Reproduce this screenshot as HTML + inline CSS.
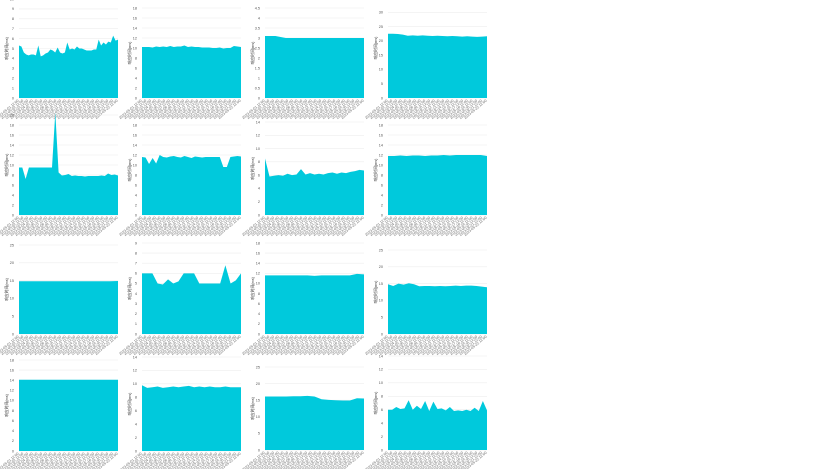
<!DOCTYPE html>
<html><head><meta charset="utf-8"><style>
body{margin:0;background:#fff;width:835px;height:469px;overflow:hidden;font-family:"Liberation Sans",sans-serif}
svg{display:block}
</style></head><body>
<svg id="c" width="835" height="469"></svg>
<script>
const v1=[5.3,5.2,4.6,4.4,4.3,4.4,4.4,4.3,5.3,4.2,4.3,4.5,4.6,4.9,4.8,4.6,5.1,4.6,4.5,4.6,5.6,4.9,5.0,4.9,5.2,5.0,5.0,4.9,4.8,4.8,4.8,4.9,4.9,5.9,5.3,5.6,5.4,5.7,5.6,6.3,5.8,5.9];
const v2=[10.2,10.2,10.2,10.1,10.3,10.2,10.3,10.2,10.4,10.2,10.3,10.3,10.5,10.2,10.3,10.2,10.2,10.1,10.1,10.1,10.0,10.0,10.1,9.9,10.0,10.0,10.4,10.3,10.2];
const v3=[3.1,3.1,3.1,3.05,3.0,3.0,3.0,3.0,3.0,3.0,3.0,3.0,3.0,3.0,3.0,3.0,3.0,3.0,3.0,3.0];
const v4=[22.5,22.5,22.4,22.2,21.8,21.9,21.8,21.9,21.8,21.7,21.8,21.7,21.6,21.7,21.6,21.5,21.6,21.5,21.4,21.5,21.6];
const v5=[9.5,9.5,7.2,9.5,9.5,9.5,9.5,9.5,9.5,9.5,9.5,20.5,8.5,7.9,8.0,8.2,7.8,7.9,7.8,7.8,7.7,7.8,7.8,7.8,7.8,7.9,7.8,8.3,8.0,8.1,7.9];
const v6=[11.6,11.5,10.2,11.4,10.3,12.0,11.6,11.5,11.7,11.8,11.6,11.5,11.8,11.6,11.4,11.7,11.6,11.5,11.6,11.6,11.6,11.6,11.6,9.6,9.6,11.6,11.7,11.8,11.7];
const v7=[8.5,5.8,5.9,6.0,5.9,6.2,6.0,6.1,6.9,6.1,6.3,6.1,6.2,6.1,6.3,6.4,6.2,6.4,6.3,6.5,6.6,6.8,6.7];
const v8=[11.8,11.8,11.9,11.8,11.9,11.9,11.8,11.9,11.9,12.0,11.9,12.0,12.0,12.0,12.0,12.0,11.8];
const v9=[14.8,14.8,14.8,14.8,14.8,14.8,14.8,14.8,14.8,14.8,14.8,14.8,14.9];
const v10=[6.0,6.0,6.0,5.0,4.9,5.4,5.0,5.2,6.0,6.0,6.0,5.0,5.0,5.0,5.0,5.0,6.8,5.0,5.3,6.0];
const v11=[11.6,11.6,11.6,11.6,11.6,11.6,11.6,11.5,11.6,11.6,11.6,11.6,11.6,11.9,11.8];
const v12=[14.8,14.3,15.0,14.7,15.1,14.8,14.2,14.3,14.3,14.2,14.3,14.2,14.3,14.4,14.3,14.4,14.4,14.3,14.1,13.9];
const v13=[14.1,14.1,14.1,14.1,14.1,14.1,14.1,14.1,14.1,14.1,14.1];
const v14=[9.8,9.4,9.5,9.6,9.4,9.5,9.6,9.5,9.6,9.7,9.5,9.6,9.5,9.6,9.5,9.5,9.6,9.5,9.5,9.5];
const v15=[16.1,16.1,16.1,16.1,16.2,16.2,16.3,16.1,15.3,15.1,15.0,14.9,14.9,15.6,15.5];
const v16=[6.0,6.0,6.4,6.1,6.2,7.4,6.0,6.6,6.1,7.3,5.8,7.2,6.1,6.2,5.9,6.4,5.8,5.9,5.8,6.0,5.8,6.3,5.8,7.3,5.9];
const t10=[0,1,2,3,4,5,6,7,8,9,10];
const t18=[0,2,4,6,8,10,12,14,16,18];
const t45=[0,0.5,1,1.5,2,2.5,3,3.5,4,4.5];
const t35=[0,5,10,15,20,25,30,35];
const t20=[0,2,4,6,8,10,12,14,16,18,20];
const t14=[0,2,4,6,8,10,12,14];
const t25=[0,5,10,15,20,25];
const t9=[0,1,2,3,4,5,6,7,8,9];
const t16=[0,2,4,6,8,10,12,14,16];
const charts=[
 [v1,t10,-1,98],[v2,t18,8,98],[v3,t45,8,98],[v4,t35,-2,98],
 [v5,t20,115,215],[v6,t18,125,215],[v7,t14,122,215],[v8,t18,125,215],
 [v9,t25,245,334],[v10,t9,243,334],[v11,t18,243,334],[v12,t25,250,334],
 [v13,t18,360,451],[v14,t14,357,451],[v15,t25,367,450],[v16,t14,356,450]
];
const NS="http://www.w3.org/2000/svg";
const svg=document.getElementById('c');
function mk(tag,at){const e=document.createElementNS(NS,tag);for(const k in at)e.setAttribute(k,at[k]);return e;}
charts.forEach((c,i)=>{
 const [vals,ticks,top,bot]=c;
 const col=i%4,row=Math.floor(i/4);
 const L=19+col*123,R=L+99;
 const ymax=ticks[ticks.length-1];
 const y=v=>bot-(v/ymax)*(bot-top);
 const x=k=>L+k*(R-L)/(vals.length-1);
 const g=mk('g',{});
 
 
 svg.appendChild(g);
 ticks.forEach(t=>{
  const ln=mk('line',{x1:L,x2:R,y1:y(t),y2:y(t),stroke:'#eee','stroke-width':0.6});
  
  
  g.appendChild(ln);
  const tx=mk('text',{x:L-5,y:y(t)+1.3,'font-size':3.8,fill:'#555','text-anchor':'end'});
  tx.textContent=t;
  
  
  g.appendChild(tx);
 });
 let d='M'+L+','+bot;
 vals.forEach((v,k)=>{d+=' L'+x(k).toFixed(2)+','+y(v).toFixed(2);});
 d+=' L'+R+','+bot+' Z';
 const p=mk('path',{d:d,fill:'#00C9DC'});
 
 
 g.appendChild(p);
 const yt=mk('text',{x:0,y:0,'font-size':3.8,fill:'#333','text-anchor':'middle',transform:'translate('+(L-11)+','+((top+bot)/2)+') rotate(-90)'});
 yt.textContent='响应时间(ms)';
 
 
 g.appendChild(yt);
 for(let k=0;k<22;k++){
  const xx=L+k*(R-L)/21;
  const tl=mk('text',{x:0,y:0,'font-size':3.6,fill:'#666','text-anchor':'end',transform:'translate('+xx+','+(bot+3)+') rotate(-40)'});
  tl.textContent='2023-05-'+String(k+1).padStart(2,'0')+' 12:00';
  
  
  g.appendChild(tl);
 }
});
</script>
</body></html>
